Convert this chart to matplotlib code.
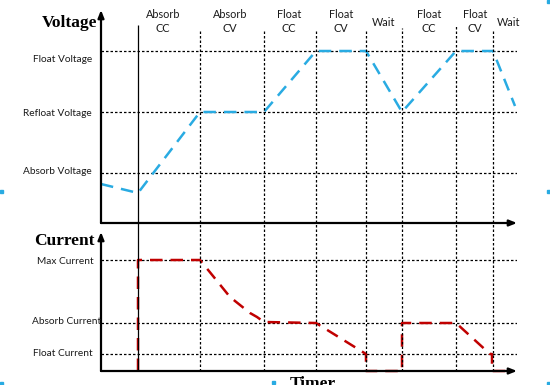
import matplotlib
matplotlib.use("Agg")
import matplotlib.pyplot as plt
from matplotlib.patches import Rectangle

# ---------------- data ----------------
phase_bounds = [37, 99, 163, 215, 265, 301, 355, 392]          # time of phase boundaries
phase_names = ["Absorb\nCC", "Absorb\nCV", "Float\nCC", "Float\nCV", "Wait",
               "Float\nCC", "Float\nCV", "Wait"]
phase_label_t = [62, 129, 188, 240, 283, 328, 374, 408]

v_levels = [172, 111, 50]
v_level_names = ["Float Voltage", "Refloat Voltage", "Absorb Voltage"]
volt_t = [0, 37, 99, 163, 215, 265, 301, 355, 392, 414]
volt_v = [39, 30, 111, 111, 172, 172, 111, 172, 172, 117]

i_levels = [111, 48, 17]
i_level_names = ["Max Current", "Absorb Current", "Float Current"]
curr_t = [37, 37, 99, 112, 129, 149, 156, 163, 215, 265, 265, 265, 301, 301, 355, 389, 391, 391, 407]
curr_i = [0, 111, 111, 95, 74, 58, 54, 49, 48, 17, 17, 0, 0, 48, 48, 17, 17, 0, 0]

T_MAX = 416
V_MAX = 213
I_MAX = 139

W, H = 550, 385
fig = plt.figure(figsize=(5.5, 3.85), dpi=100)
fig.patch.set_facecolor("white")

def fx(px):
    return px / W

def fy(py):
    return 1 - py / H

LABEL_FONT = "Lato"
TITLE_FONT = "Liberation Serif"

# top axes (voltage)
ax_v = fig.add_axes([fx(101), fy(223), fx(517) - fx(101), fy(10) - fy(223)])
# bottom axes (current)
ax_i = fig.add_axes([fx(101), fy(371), fx(517) - fx(101), fy(232) - fy(371)])
# overlay for the phase dividers
ax_o = fig.add_axes([fx(101), fy(371), fx(517) - fx(101), fy(0) - fy(371)])

for ax in (ax_v, ax_i, ax_o):
    ax.set_xlim(0, T_MAX)
    ax.axis("off")
    ax.patch.set_alpha(0)
ax_v.set_ylim(0, V_MAX)
ax_i.set_ylim(0, I_MAX)
ax_o.set_ylim(0, 371)

# phase divider lines
div_tops = [346, 342, 342, 342, 342, 343, 345, 340]
for k, (t, top) in enumerate(zip(phase_bounds, div_tops)):
    if k == 0:
        ax_o.plot([t, t], [0, top], color="black", lw=0.9, solid_capstyle="butt")
    else:
        ax_o.plot([t, t], [0, top], color="black", lw=0.9, linestyle=(0, (2, 1.6)))

# phase labels
for t, name in zip(phase_label_t, phase_names):
    yy = 349.5 if "\n" in name else 348.5
    ax_o.text(t, yy, name, ha="center", va="center", fontsize=7.8, family=LABEL_FONT,
              linespacing=1.25, color="#1a1a1a")

# horizontal level lines
for lv in v_levels:
    ax_v.plot([0, T_MAX], [lv, lv], color="black", lw=0.9, linestyle=(0, (2, 1.6)))
for lv in i_levels:
    ax_i.plot([0, T_MAX], [lv, lv], color="black", lw=0.9, linestyle=(0, (2, 1.6)))

# axes with arrows
arrow_kw = dict(arrowstyle="-|>,head_length=0.45,head_width=0.18", color="black", lw=1.6,
                shrinkA=0, shrinkB=0)
for ax in (ax_v, ax_i):
    ax.annotate("", xy=(0, 1), xytext=(0, 0), xycoords="axes fraction",
                textcoords="axes fraction", arrowprops=arrow_kw, annotation_clip=False)
    ax.annotate("", xy=(1, 0), xytext=(0, 0), xycoords="axes fraction",
                textcoords="axes fraction", arrowprops=arrow_kw, annotation_clip=False)

# series
ax_v.plot(volt_t, volt_v, color="#29ABE2", lw=1.8, linestyle=(0, (5, 3.2)), clip_on=False)
ax_i.plot(curr_t, curr_i, color="#C00000", lw=1.8, linestyle=(0, (5, 3.2)), clip_on=False)

# level labels
v_label_off = [-9, -1, 1]   # pixel offsets of labels relative to their line
for lv, name, off in zip(v_levels, v_level_names, v_label_off):
    ax_v.text(-9, lv + off, name, ha="right", va="center", fontsize=7.3,
              family=LABEL_FONT, color="#1a1a1a")
i_label_x = [-7, 0, -8]
i_label_off = [-2, 2, 0]
for lv, name, xo, off in zip(i_levels, i_level_names, i_label_x, i_label_off):
    ax_i.text(xo, lv + off, name, ha="right", va="center", fontsize=7.3,
              family=LABEL_FONT, color="#1a1a1a")

# titles
fig.text(fx(97), fy(23), "Voltage", ha="right", va="center", fontsize=12.5,
         fontweight="bold", family=TITLE_FONT)
fig.text(fx(95), fy(241), "Current", ha="right", va="center", fontsize=12.5,
         fontweight="bold", family=TITLE_FONT)
fig.text(fx(313), fy(376), "Timer", ha="center", va="top", fontsize=12.5,
         fontweight="bold", family=TITLE_FONT)

# selection handle marks at the image edges
for (px, py) in [(0, 190), (547, 190), (272, 381), (547, 382), (0, 382), (547, 0)]:
    fig.patches.append(Rectangle((fx(px), fy(py + 3)), fx(3), 3 / H,
                                 transform=fig.transFigure, color="#29ABE2",
                                 figure=fig))

fig.savefig("out.png", dpi=100)
